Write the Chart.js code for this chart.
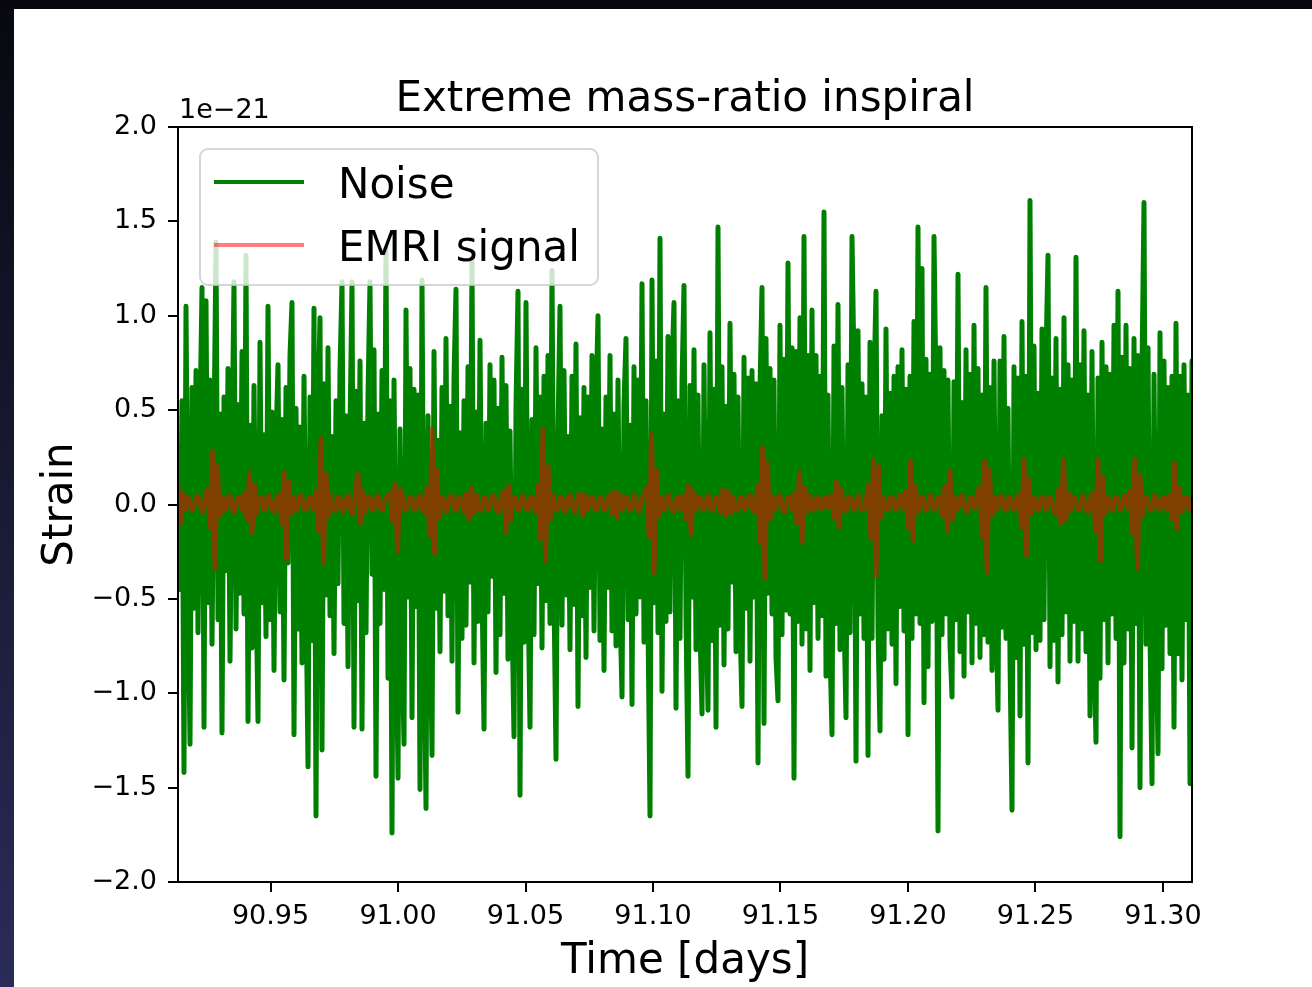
<!DOCTYPE html>
<html>
<head>
<meta charset="utf-8">
<title>Extreme mass-ratio inspiral</title>
<script src="https://cdn.jsdelivr.net/npm/chart.js@4.4.1/dist/chart.umd.min.js"></script>
<style>
  html, body { margin: 0; padding: 0; background: #fff; }
</style>
</head>
<body>
<canvas id="strain-plot" width="1312" height="987"></canvas>
<script>
// strain in units of 1e-21, time in days
var noiseStart = 90.9137;
var noiseStep = 0.00078442;
var noiseStrain = [
    0.30, -0.45, 0.55, -1.42, 1.05, -0.38, -1.27, 0.62, -0.55, 0.71,
    -0.68, 0.44, 1.15, -1.18, 1.08, -0.52, 0.66, -0.74, 0.38, 1.39,
    -0.61, 0.48, -1.21, 0.57, -0.35, 0.72, -0.83, 0.29, 1.18, -0.66,
    0.53, -0.47, 0.81, -0.58, 1.32, -1.15, 0.42, -0.76, 0.63, -0.39,
    -1.15, 0.86, -0.52, 0.37, -0.70, 1.05, -0.61, 0.49, -0.88, 0.33,
    0.74, -0.57, 0.45, -0.93, 0.62, -0.31, 0.79, 1.07, -1.22, 0.51,
    -0.66, 0.41, -0.84, 0.68, -0.44, -1.39, 0.57, -0.72, 1.04, -1.65,
    0.50, 0.99, -1.30, 0.64, -0.48, 0.83, -0.59, 0.36, -0.79, 0.55,
    -0.42, 0.71, 1.18, -0.63, 0.47, -0.86, 0.39, 1.18, -1.18, 0.60,
    -0.51, 0.76, -1.19, 0.43, -0.68, 0.58, 1.18, -0.37, 0.82, -1.44,
    0.48, -0.63, 0.71, -0.45, 1.36, -0.92, 0.55, -1.74, 0.66, -0.58,
    -1.45, 0.40, -0.71, -1.27, 1.03, -0.49, 0.72, -1.13, 0.61, -0.54,
    0.58, -1.51, 1.19, -0.66, -1.61, 0.47, -0.48, -1.33, 0.81, -0.55,
    0.34, -0.78, 0.62, -0.46, 0.88, -0.59, 0.52, -0.83, 0.67, 1.14,
    -1.10, 0.38, -0.71, 0.55, -0.64, 0.73, -0.41, 1.30, -0.84, 0.49,
    -0.62, 0.87, -0.44, -1.19, 0.43, -0.57, 0.74, -0.38, 0.66, -0.89,
    0.51, -0.69, 0.78, -0.47, 0.63, -0.82, 0.39, -0.58, -1.23, 0.52,
    1.13, -1.54, 0.61, -0.73, 1.07, -0.45, -1.18, 0.45, -0.69, 0.83,
    -0.42, 0.57, -0.76, 0.68, -0.51, 0.79, -0.63, 1.24, -0.48, -1.35,
    0.39, 1.05, -0.64, 0.71, -0.48, 0.36, -0.77, 0.68, -0.53, 0.85,
    -1.07, 0.46, -0.59, 0.62, -0.81, 0.57, -0.44, 0.79, -0.67, 0.53,
    1.00, -0.72, 0.40, -0.88, 0.57, -0.44, 0.79, -0.67, 0.48, -0.75,
    0.66, -0.54, -1.02, 0.53, 0.88, -0.61, 0.42, -1.06, 0.73, -0.58,
    0.66, -0.49, 1.17, -0.73, 0.55, -0.62, -1.65, 1.19, -0.52, 0.76,
    -0.68, 1.41, -0.99, 0.48, -0.62, 0.89, -0.57, 0.72, 1.07, -1.08,
    0.55, -0.71, 0.64, 1.16, -0.59, -1.44, 0.63, -0.49, 0.82, -0.77,
    0.58, -0.66, -1.11, 0.74, -0.53, -1.09, 0.91, -0.72, 0.61, -1.18,
    1.47, -0.64, 0.73, -0.85, 0.52, -0.66, 0.96, -0.41, 0.69, -0.78,
    0.57, -0.62, -1.07, 0.78, -0.55, 0.67, -0.83, 0.71, -0.49, 0.64,
    -1.37, 0.61, 1.15, -1.16, 0.88, -0.47, 0.72, -0.58, 0.66, -0.81,
    -1.04, 0.95, -0.69, 0.77, -0.56, 1.28, -0.58, 0.83, -1.45, 0.81,
    -0.62, 0.99, -0.74, 1.42, -0.66, 0.79, -0.88, 1.03, -0.52, 0.79,
    -0.71, 0.68, -0.59, 1.55, -0.91, 0.58, -0.77, -1.22, 0.84, -0.63,
    1.06, -0.77, 0.62, -0.58, -1.13, 0.74, -0.68, 1.42, 0.71, -1.36,
    0.92, -0.58, 0.64, -0.71, 0.57, -1.33, 0.86, -0.71, 0.63, 1.13,
    -0.66, -1.20, 0.47, -0.82, 0.93, -0.66, 0.59, -0.74, 0.68, -0.95,
    0.73, -0.54, 0.82, -0.67, 0.61, -1.22, 0.68, -0.71, 0.97, -0.58,
    1.47, -0.63, 1.25, -1.05, 0.77, -0.86, 0.69, -0.62, 1.42, 0.58,
    -1.73, 0.83, -0.69, 0.71, -0.58, 0.66, -0.74, -1.02, 0.65, -0.61,
    1.22, -0.78, 0.54, -0.91, 0.82, -0.57, 0.69, -0.84, 0.95, -0.63,
    0.72, -0.81, 0.58, -0.69, 1.15, -0.73, 0.62, -0.88, 0.76, -0.54,
    -1.09, 0.76, -0.65, 0.89, -0.71, 0.51, -0.82, -1.62, 0.73, -0.81,
    0.67, -1.12, 0.97, -0.74, 0.68, -1.37, 1.61, -0.68, 0.84, -0.77,
    0.59, -0.72, 0.93, -0.61, 0.78, 1.32, -0.86, 0.67, -0.72, 0.88,
    -0.94, 0.61, -0.69, 0.99, -0.57, 0.74, -0.83, 0.66, -0.62, 1.31,
    -0.83, 0.74, -0.66, 0.92, -0.78, 0.58, -1.12, 0.81, -0.75, -1.26,
    0.67, -0.92, 0.86, -0.61, 0.73, -0.84, 0.69, -0.58, 0.95, -0.71,
    1.13, -1.76, 0.78, -0.84, 0.95, -0.66, 0.72, -1.29, 0.88, -0.63,
    0.79, -1.50, 0.72, 1.60, -0.74, 0.83, -0.69, -1.48, 0.69, -0.58,
    -1.32, 0.91, -0.87, 0.76, -0.64, 0.62, -0.79, 0.68, -1.18, 0.96,
    -0.79, 0.68, -0.93, 0.74, -0.61, 0.58, -1.48, 0.76
];

// one row per orbit, the periapsis burst sits in the middle of each row
var emriStart = 90.9137;
var emriStep = 0.00096732;
var emriStrain = [
    0.12, -0.10, 0.06, -0.03, 0.04, 0.00, -0.03, 0.02,
    0.05, 0.00, -0.04, 0.03, 0.08, -0.12, 0.28, -0.34, 0.20, -0.06, 0.04, -0.03, 0.01, 0.05, -0.02,
    -0.04, 0.03, 0.04, -0.03, 0.06, -0.08, 0.17, -0.15, 0.10, -0.05, 0.03, 0.04, -0.03, 0.00, 0.05,
    -0.02, -0.04, 0.03, 0.05, -0.10, 0.17, -0.29, 0.12, -0.05, 0.04, -0.03, 0.02, 0.05, -0.02, -0.03,
    0.03, 0.04, -0.03, 0.07, -0.14, 0.35, -0.31, 0.16, -0.06, 0.05, -0.02, -0.03, 0.04, 0.02, -0.04,
    0.02, 0.05, -0.03, -0.05, 0.08, 0.16, -0.10, 0.07, -0.04, 0.04, 0.03, -0.03, 0.01, 0.05, -0.02,
    -0.03, 0.03, 0.04, 0.06, -0.09, 0.11, -0.25, 0.08, 0.05, -0.03, -0.02, 0.04, 0.03, -0.03, 0.00,
    0.05, -0.02, -0.04, 0.09, -0.16, 0.40, -0.26, 0.18, -0.07, 0.04, 0.02, -0.04, 0.03, 0.05, -0.02,
    -0.03, 0.04, 0.02, -0.04, 0.06, -0.08, 0.09, -0.05, 0.05, -0.02, -0.03, 0.04, 0.02, -0.03, 0.03,
    0.05, -0.02, -0.04, 0.03, 0.07, -0.15, 0.10, -0.08, 0.04, 0.03, -0.03, 0.00, 0.05, -0.02, -0.03,
    0.04, 0.03, -0.04, 0.10, -0.18, 0.40, -0.30, 0.20, -0.08, 0.05, -0.02, -0.03, 0.04, 0.02, -0.04,
    0.03, 0.05, -0.02, -0.04, 0.04, 0.06, -0.06, 0.05, -0.03, 0.03, 0.04, -0.02, -0.03, 0.04, 0.01,
    -0.03, 0.02, 0.05, -0.05, 0.07, -0.07, 0.06, -0.03, 0.03, 0.04, -0.03, -0.02, 0.05, 0.01, -0.04,
    0.03, 0.05, 0.09, -0.17, 0.37, -0.36, 0.18, -0.06, 0.04, -0.03, 0.02, 0.05, -0.02, -0.04, 0.03,
    0.04, -0.03, 0.05, -0.08, 0.10, -0.16, 0.07, -0.03, 0.04, 0.03, -0.03, 0.01, 0.05, -0.02, -0.03,
    0.04, 0.02, -0.04, 0.08, -0.06, 0.07, -0.05, 0.04, -0.02, -0.03, 0.04, 0.03, -0.03, 0.02, 0.05,
    -0.02, -0.04, 0.10, -0.20, 0.30, -0.39, 0.22, -0.08, 0.04, -0.03, 0.02, 0.05, -0.02, -0.04, 0.03,
    0.04, -0.03, 0.06, -0.10, 0.17, -0.20, 0.09, -0.04, 0.05, -0.02, -0.03, 0.04, 0.02, -0.03, 0.03,
    0.04, -0.02, 0.05, -0.07, 0.12, -0.12, 0.08, -0.03, -0.03, 0.04, 0.03, -0.03, 0.01, 0.05, -0.02,
    -0.03, 0.03, 0.10, -0.18, 0.24, -0.38, 0.20, -0.07, 0.04, -0.02, -0.03, 0.04, 0.03, -0.03, 0.02,
    0.05, -0.02, 0.07, -0.12, 0.23, -0.19, 0.10, -0.04, 0.03, 0.04, -0.03, -0.02, 0.05, 0.01, -0.03,
    0.03, 0.04, -0.06, 0.10, -0.14, 0.18, -0.08, 0.04, -0.03, 0.02, 0.05, -0.02, -0.04, 0.03, 0.04,
    -0.02, 0.04, 0.09, -0.17, 0.23, -0.36, 0.18, -0.06, 0.04, -0.03, 0.02, 0.05, -0.02, -0.03, 0.04,
    0.02, -0.03, 0.03, 0.05, -0.12, 0.24, -0.27, 0.13, -0.05, 0.04, -0.02, -0.03, 0.04, 0.02, -0.03,
    0.04, 0.03, -0.03, -0.05, 0.08, -0.10, 0.24, -0.08, 0.06, -0.03, 0.04, 0.02, -0.03, 0.00, 0.05,
    -0.02, -0.04, 0.03, 0.06, -0.14, 0.24, -0.30, 0.14, -0.05, 0.04, -0.02, -0.03, 0.04, 0.03, -0.03,
    0.01, 0.05, -0.02, 0.07, -0.15, 0.24, -0.34, 0.15, -0.06, 0.04, 0.03, -0.03, -0.02, 0.05, 0.01,
    -0.03, 0.03, 0.04, -0.03, 0.05, -0.08, 0.22, -0.13, 0.09, -0.04, 0.03, 0.04, -0.03, 0.02, 0.05
];

var timeTicks = [90.95, 91.00, 91.05, 91.10, 91.15, 91.20, 91.25, 91.30];
var timeMin = 90.9137;
var timeMax = 91.3114;

var FONT = '"DejaVu Sans", sans-serif';

function toPoints(start, step, values) {
    return values.map(function(v, i) {
        return { x: start + i * step, y: v };
    });
}

function minusSign(s) {
    return s.replace('-', '\u2212');
}

var axesPlugin = {
    id: 'mplAxes',
    beforeDraw: function(chart) {
        var ctx = chart.ctx;
        ctx.save();
        ctx.fillStyle = '#ffffff';
        ctx.fillRect(0, 0, chart.width, chart.height);
        var side = ctx.createLinearGradient(0, 0, 0, chart.height);
        side.addColorStop(0, '#08080f');
        side.addColorStop(1, '#292c58');
        ctx.fillStyle = side;
        ctx.fillRect(0, 0, 14, chart.height);
        ctx.fillStyle = '#06060c';
        ctx.fillRect(0, 0, chart.width, 9);
        ctx.restore();
    },
    afterDatasetsDraw: function(chart) {
        // legend box, upper left inside the axes
        var ctx = chart.ctx;
        var items = [chart.data.datasets[1], chart.data.datasets[0]];
        ctx.save();
        ctx.beginPath();
        ctx.roundRect(200, 149, 398, 136, 8);
        ctx.fillStyle = 'rgba(255,255,255,0.8)';
        ctx.fill();
        ctx.lineWidth = 2;
        ctx.strokeStyle = 'rgba(204,204,204,0.8)';
        ctx.stroke();
        items.forEach(function(ds, i) {
            var y = 182 + i * 63;
            ctx.beginPath();
            ctx.moveTo(214, y);
            ctx.lineTo(304, y);
            ctx.strokeStyle = ds.borderColor;
            ctx.lineWidth = 4;
            ctx.lineCap = 'butt';
            ctx.stroke();
            ctx.fillStyle = '#000';
            ctx.font = '42px ' + FONT;
            ctx.textAlign = 'left';
            ctx.textBaseline = 'alphabetic';
            ctx.fillText(ds.label, 338, y + 16);
        });
        ctx.restore();
    },
    afterDraw: function(chart) {
        var ctx = chart.ctx;
        var a = chart.chartArea;
        ctx.save();
        ctx.strokeStyle = '#000';
        ctx.lineWidth = 2;
        ctx.strokeRect(a.left, a.top, a.right - a.left, a.bottom - a.top);

        ctx.fillStyle = '#000';
        ctx.textBaseline = 'alphabetic';
        ctx.font = '42px ' + FONT;
        ctx.textAlign = 'center';
        ctx.fillText('Extreme mass-ratio inspiral', (a.left + a.right) / 2, 111);
        ctx.fillText('Time [days]', (a.left + a.right) / 2, 973);

        ctx.font = '27px ' + FONT;
        ctx.textAlign = 'left';
        ctx.fillText('1e\u221221', a.left + 1, 118);

        ctx.translate(72, (a.top + a.bottom) / 2);
        ctx.rotate(-Math.PI / 2);
        ctx.font = '42px ' + FONT;
        ctx.textAlign = 'center';
        ctx.fillText('Strain', 0, 0);
        ctx.restore();
    }
};

var strainChart = new Chart(document.getElementById('strain-plot'), {
    type: 'line',
    data: {
        datasets: [
            {
                label: 'EMRI signal',
                data: toPoints(emriStart, emriStep, emriStrain),
                borderColor: 'rgba(255,0,0,0.5)',
                borderWidth: 4.5,
                tension: 0.35,
                pointRadius: 0,
                borderJoinStyle: 'round',
                borderCapStyle: 'round',
                clip: 0
            },
            {
                label: 'Noise',
                data: toPoints(noiseStart, noiseStep, noiseStrain),
                borderColor: '#008000',
                borderWidth: 5,
                tension: 0,
                pointRadius: 0,
                borderJoinStyle: 'round',
                borderCapStyle: 'round',
                clip: 0
            }
        ]
    },
    options: {
        responsive: false,
        animation: false,
        events: [],
        layout: { padding: { left: 0, top: 127, right: 120, bottom: 0 } },
        plugins: {
            legend: { display: false },
            title: { display: false },
            tooltip: { enabled: false }
        },
        scales: {
            x: {
                type: 'linear',
                min: timeMin,
                max: timeMax,
                afterBuildTicks: function(scale) {
                    scale.ticks = timeTicks.map(function(v) { return { value: v }; });
                },
                afterFit: function(scale) { scale.height = 105; },
                grid: { drawOnChartArea: false, drawTicks: true, tickLength: 10, color: '#000', lineWidth: 2 },
                border: { display: false },
                ticks: {
                    autoSkip: false,
                    maxRotation: 0,
                    padding: 9,
                    color: '#000',
                    font: { family: FONT, size: 27 },
                    callback: function(v) { return Number(v).toFixed(2); }
                }
            },
            y: {
                type: 'linear',
                min: -2,
                max: 2,
                afterFit: function(scale) { scale.width = 178; },
                grid: { drawOnChartArea: false, drawTicks: true, tickLength: 10, color: '#000', lineWidth: 2 },
                border: { display: false },
                ticks: {
                    stepSize: 0.5,
                    padding: 11,
                    color: '#000',
                    font: { family: FONT, size: 27 },
                    callback: function(v) { return minusSign(Number(v).toFixed(1)); }
                }
            }
        }
    },
    plugins: [axesPlugin]
});
</script>
</body>
</html>
